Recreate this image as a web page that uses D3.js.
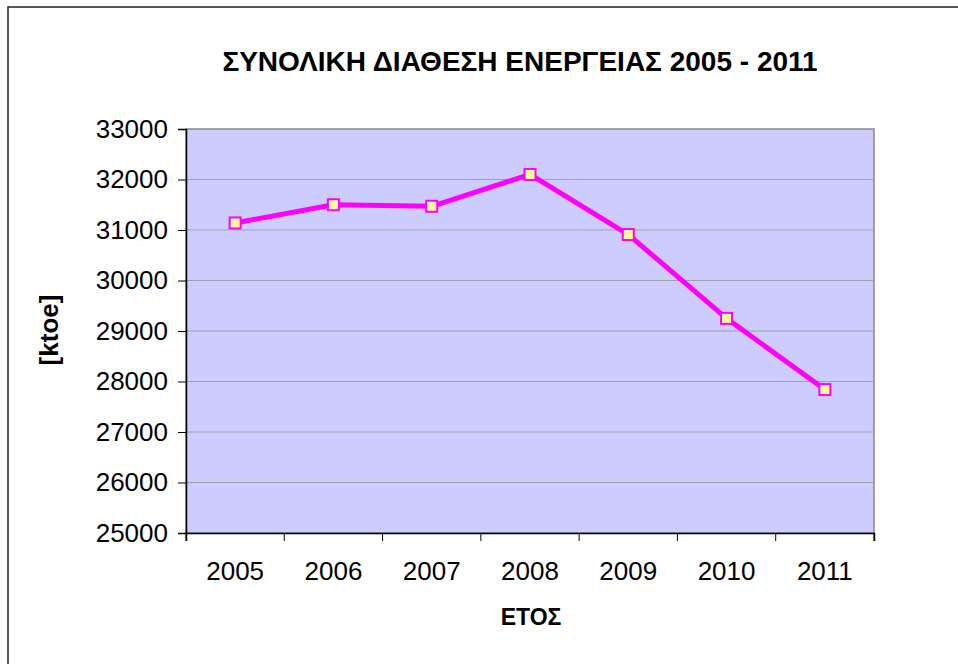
<!DOCTYPE html>
<html>
<head>
<meta charset="utf-8">
<script src="https://cdn.jsdelivr.net/npm/d3@7"></script>
<style>
  body { margin: 0; background: #fff; }
  text { font-family: "Liberation Sans", Arial, sans-serif; fill: #000; }
</style>
</head>
<body>
<div id="chart"></div>
<script>
var years = ["2005", "2006", "2007", "2008", "2009", "2010", "2011"];
var energy = [31140, 31500, 31470, 32100, 30910, 29250, 27840];
var yTicks = [25000, 26000, 27000, 28000, 29000, 30000, 31000, 32000, 33000];

var W = 958, H = 664;
var margin = { top: 129, right: 84, bottom: 131, left: 186 };
var width = W - margin.left - margin.right,
    height = H - margin.top - margin.bottom;

var svg = d3.select("#chart").append("svg")
  .attr("width", W).attr("height", H);

// chart frame (cut off at right / bottom like the original)
svg.append("rect")
  .attr("x", 8).attr("y", 7)
  .attr("width", W + 10).attr("height", H + 10)
  .attr("fill", "#fff").attr("stroke", "#222").attr("stroke-width", 1.5);

var g = svg.append("g").attr("transform", "translate(" + margin.left + "," + margin.top + ")");

var x = d3.scaleBand().domain(years).range([0, width]);
var y = d3.scaleLinear().domain([25000, 33000]).range([height, 0]);

g.append("rect")
  .attr("width", width).attr("height", height)
  .attr("fill", "#ccccff").attr("stroke", "#888").attr("stroke-width", 1.5);

// gridlines
g.selectAll(".grid").data(yTicks.slice(1, -1))
  .enter().append("line")
  .attr("class", "grid")
  .attr("x1", 0).attr("x2", width)
  .attr("y1", function (d) { return y(d); })
  .attr("y2", function (d) { return y(d); })
  .attr("stroke", "#a0a0a8").attr("stroke-width", 1);

var yAxis = g.append("g")
  .call(d3.axisLeft(y).tickValues(yTicks).tickSize(8).tickPadding(10).tickFormat(d3.format("d")));
var xAxis = g.append("g")
  .attr("transform", "translate(0," + height + ")")
  .call(d3.axisBottom(x).tickSize(8).tickPadding(21));

// put x ticks on the category boundaries
xAxis.selectAll(".tick line").remove();
xAxis.selectAll(".bound").data(d3.range(years.length + 1))
  .enter().append("line")
  .attr("x1", function (i) { return i * x.step(); })
  .attr("x2", function (i) { return i * x.step(); })
  .attr("y1", 0).attr("y2", 8)
  .attr("stroke", "#000");

[yAxis, xAxis].forEach(function (a) {
  a.select(".domain").attr("stroke", "#000").attr("stroke-width", 1.5);
  a.selectAll("text").style("font-size", "26px").style("font-family", "Liberation Sans, Arial, sans-serif");
});

var line = d3.line()
  .x(function (d, i) { return x(years[i]) + x.bandwidth() / 2; })
  .y(function (d) { return y(d); });

g.append("path")
  .datum(energy)
  .attr("d", line)
  .attr("fill", "none")
  .attr("stroke", "#ff00ff")
  .attr("stroke-width", 5)
  .attr("stroke-linejoin", "round");

g.selectAll(".pt").data(energy)
  .enter().append("rect")
  .attr("class", "pt")
  .attr("x", function (d, i) { return x(years[i]) + x.bandwidth() / 2 - 5.5; })
  .attr("y", function (d) { return y(d) - 5.5; })
  .attr("width", 11).attr("height", 11)
  .attr("fill", "#ffff99").attr("stroke", "#ff00ff").attr("stroke-width", 2);

svg.append("text")
  .attr("x", 520).attr("y", 71)
  .attr("text-anchor", "middle")
  .style("font-size", "28px").style("font-weight", "bold")
  .text("ΣΥΝΟΛΙΚΗ ΔΙΑΘΕΣΗ ΕΝΕΡΓΕΙΑΣ 2005 - 2011");

svg.append("text")
  .attr("x", 531).attr("y", 625)
  .attr("text-anchor", "middle")
  .style("font-size", "23px").style("font-weight", "bold")
  .text("ΕΤΟΣ");

svg.append("text")
  .attr("transform", "translate(58,330) rotate(-90)")
  .attr("text-anchor", "middle")
  .style("font-size", "26px").style("font-weight", "bold")
  .text("[ktoe]");
</script>
</body>
</html>
